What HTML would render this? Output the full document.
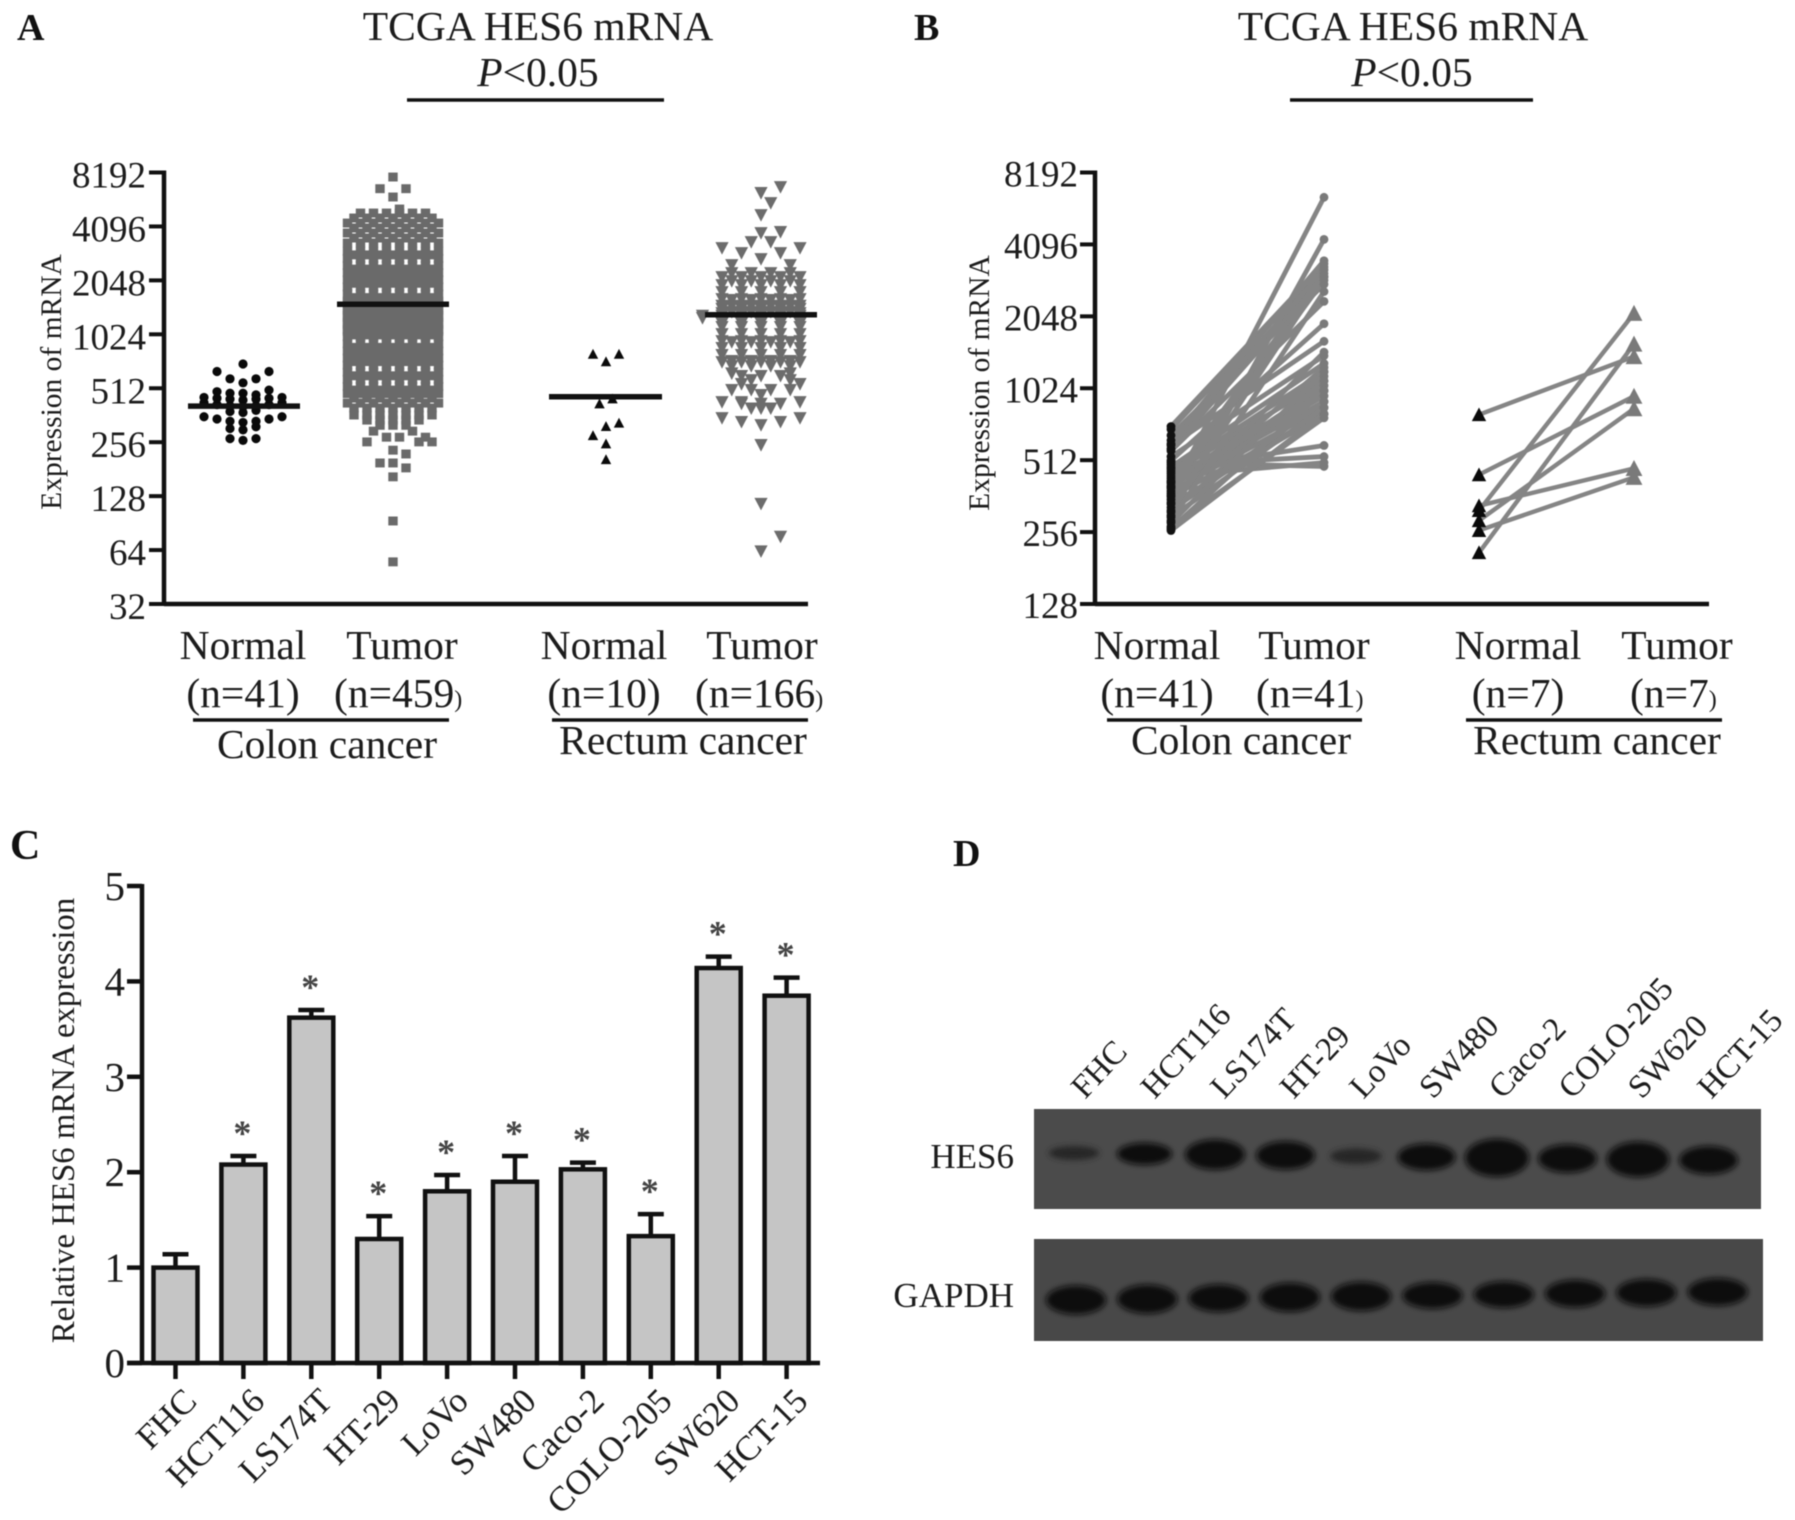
<!DOCTYPE html>
<html lang="en">
<head>
<meta charset="utf-8">
<title>HES6 mRNA figure</title>
<style>
html,body{margin:0;padding:0;background:#fff;width:1795px;height:1520px;overflow:hidden}
svg{display:block;filter:blur(.6px)}
text{font-family:"Liberation Serif",serif;fill:#1c1c1c}
.t40{font-size:41.5px}
.tick{font-size:37px;text-anchor:end}
.ctr{text-anchor:middle}
.panel{font-size:38px;font-weight:bold;fill:#111}
.ln{stroke:#111;fill:none}
.sm{font-size:24px}
</style>
</head>
<body>
<svg id="fig" xmlns="http://www.w3.org/2000/svg" width="1795" height="1520" viewBox="0 0 1795 1520">
  <rect width="1795" height="1520" fill="#fff"/>

  <!-- Panel A text -->
  <text x="17" y="40" class="panel">A</text>
  <text x="538" y="40" class="t40 ctr">TCGA HES6 mRNA</text>
  <text x="538" y="86" class="t40 ctr"><tspan font-style="italic">P</tspan>&lt;0.05</text>
  <line x1="407" y1="100" x2="664" y2="100" class="ln" stroke-width="3.5"/>
  <text x="52" y="382" class="ctr" font-size="29.5" transform="rotate(-90 52 382)" dy="9">Expression of mRNA</text>
  <text x="243" y="659" class="t40 ctr">Normal</text>
  <text x="402" y="659" class="t40 ctr">Tumor</text>
  <text x="243" y="707" class="t40 ctr">(n=41)</text>
  <text x="334" y="707" class="t40">(n=459<tspan class="sm">)</tspan></text>
  <line x1="193" y1="720" x2="449" y2="720" class="ln" stroke-width="3.5"/>
  <text x="327" y="758" class="t40 ctr">Colon cancer</text>
  <text x="604" y="659" class="t40 ctr">Normal</text>
  <text x="762" y="659" class="t40 ctr">Tumor</text>
  <text x="604" y="707" class="t40 ctr">(n=10)</text>
  <text x="695" y="707" class="t40">(n=166<tspan class="sm">)</tspan></text>
  <line x1="552" y1="720" x2="808" y2="720" class="ln" stroke-width="3.5"/>
  <text x="683" y="754" class="t40 ctr">Rectum cancer</text>

  <!-- Panel B text -->
  <text x="914" y="40" class="panel">B</text>
  <text x="1413" y="40" class="t40 ctr">TCGA HES6 mRNA</text>
  <text x="1412" y="86" class="t40 ctr"><tspan font-style="italic">P</tspan>&lt;0.05</text>
  <line x1="1290" y1="100" x2="1533" y2="100" class="ln" stroke-width="3.5"/>
  <text x="980" y="383" class="ctr" font-size="29.5" transform="rotate(-90 980 383)" dy="9">Expression of mRNA</text>
  <text x="1157" y="659" class="t40 ctr">Normal</text>
  <text x="1314" y="659" class="t40 ctr">Tumor</text>
  <text x="1157" y="707" class="t40 ctr">(n=41)</text>
  <text x="1256" y="707" class="t40">(n=41<tspan class="sm">)</tspan></text>
  <line x1="1107" y1="720" x2="1362" y2="720" class="ln" stroke-width="3.5"/>
  <text x="1241" y="754" class="t40 ctr">Colon cancer</text>
  <text x="1518" y="659" class="t40 ctr">Normal</text>
  <text x="1677" y="659" class="t40 ctr">Tumor</text>
  <text x="1518" y="707" class="t40 ctr">(n=7)</text>
  <text x="1630" y="707" class="t40">(n=7<tspan class="sm">)</tspan></text>
  <line x1="1466" y1="720" x2="1722" y2="720" class="ln" stroke-width="3.5"/>
  <text x="1597" y="754" class="t40 ctr">Rectum cancer</text>

  <!-- Panel C / D text -->
  <text x="10" y="859" class="panel" font-size="42" style="font-size:42px">C</text>
  <text x="64" y="1120.5" class="ctr" font-size="32.8" transform="rotate(-90 64 1120.5)" dy="10">Relative HES6 mRNA expression</text>
  <text x="953" y="866" class="panel">D</text>
  <text x="1014" y="1168" font-size="35" text-anchor="end">HES6</text>
  <text x="1014" y="1307" font-size="35" text-anchor="end">GAPDH</text>

  <g id="layer-a"></g>
  <g id="layer-b"></g>
  <g id="layer-c"></g>
  <g id="layer-d"></g>
  <defs>
    <filter id="bandBlur" x="-40%" y="-80%" width="180%" height="260%"><feGaussianBlur stdDeviation="3"/></filter>
  </defs>
</svg>
<script>
/* ---------- Panel A data ---------- */
const aTickLabels = [8192,4096,2048,1024,512,256,128,64,32];
/* Dense part of the colon tumour column: expression level and number of samples in that swarm row */
const aColonTumorLevels = [4866,4564,4279,4014,3764,3529,3311,
  2975,2842,2715,2478,2367,2261,2160,2064,1972,1884,
  1719,1642,1569,1499,1432,1368,1307,1248,1192,1139,1088,1040,993,
  906,866,827,790,755,721,689,629,601,574,524,500,478,
  451,423,397,363,340,
  1534,1465,1400,1337,1277,1220,1165,1113,1064,1016,970];
const aColonTumorCounts = [6,7,8,7,8,7,8,
  8,7,8,8,7,8,7,8,7,8,
  8,7,8,7,8,7,8,7,8,7,8,7,8,
  8,7,8,7,8,7,8,8,7,8,8,7,8,
  7,8,7,7,5,
  8,7,8,7,8,7,8,7,8,7,2];
/* Sparse rows: null marks an empty swarm slot */
const aColonTumorSparseRows = [[7729],[null,6654,6654],[5979],[null,5123],
  [318,318,318],[null,null,295,295],[273,273,null,null,null,273],[null,null,null,257,257,null,257],
  [231],[null,null,220],[196,196,null],[null,null,184],[164],[93],[55]];
const aColonNormalRows = [[699],[549,578,578,635,635],[480,480,470,490,500],
  [440,445,445,450,450,455,455],[405,408,408,415,415,425,425],[375,380,385],
  [330,335,335,345,345,355,355],[300,305,312],[262,268,268]];
const aRectumNormalRows = [[721,794,794],[420,448],[314,279,328],[251],[205]];
const aRectumTumorRows = [[null,null,6797],[6295],[null,5534],[4743],[3764,null,3814],[3353,3353],
  [null,null,null,3104,3104],[null,2910,2910],[2695],[null,null,2495,2495],
  [2250,2250,2250,2250],[2138,2138,2138,2138,2138],[2031,2031,2031,2031],[1929,1929,1929,1929,1929],
  [1763,1763,1763,1763,1763],[1612,1612,1612,1612,1612],[1592,1592,1592,1592],
  [1473,1473,1473,1473],[1480,1480,1480,1480,1480],[1420,1420,1420,1420,1420],[1364,1364,1364,1364],
  [1346,1346,1346,1346,1346],[1300,1300,1300,1300,1300,1300,null],[1263,1263,1263,1263,1263,1263,null],
  [1231,1231,1231,1231,1231],[1180,1180,1180,1180,1180],[1125,1125,1125,1125,1125],
  [1028,1028,1028,1028,1028],[939,939,939,939,939],[927,927,927,927],[859,859,859,859,859],
  [785,785,785,785,785],[727,727,727,727],[717,717,717,717,717],[681,681,681,681],
  [null,null,620,620],[600,600,600],[569,null,null,569],[null,541,null,null,541],[501,501,501,501],
  [470],[null,429,null,429,429],[420,420,420],[395],[395,395],[319,332,332,349,349],[247],[116],[63,null,76]];
const aMeans = [407,1506,459,1317];

/* ---------- Panel B data ---------- */
const bTickLabels = [8192,4096,2048,1024,512,256,128];
const bColonNormal = [708,690,650,620,600,590,570,560,530,510,500,490,480,470,460,450,440,430,420,415,410,400,395,390,380,372,365,360,350,340,335,325,315,310,300,295,285,280,270,265,260];
const bColonTumor  = [3400,3300,2790,3500,3200,1610,3000,2365,1400,1907,482,530,1300,590,1200,1100,500,1000,3100,950,1150,900,1050,2900,850,6450,1000,800,1250,1450,800,3000,900,1100,4300,850,2600,1200,770,1000,800];
const bRectumNormal = [794,445,330,315,286,260,210];
const bRectumTumor  = [1390,948,473,2108,841,434,1568];

/* ---------- Panel C data ---------- */
const cCategories = ['FHC','HCT116','LS174T','HT-29','LoVo','SW480','Caco-2','COLO-205','SW620','HCT-15'];
const cValues = [1.0,2.08,3.62,1.3,1.8,1.9,2.03,1.33,4.14,3.85];
const cErrorTops = [1.14,2.17,3.7,1.54,1.97,2.17,2.1,1.56,4.26,4.04];
const cTickLabels = [0,1,2,3,4,5];
const cStars = [false,true,true,true,true,true,true,true,true,true];

/* ---------- Panel D data ---------- */
const dLanes = ['FHC','HCT116','LS174T','HT-29','LoVo','SW480','Caco-2','COLO-205','SW620','HCT-15'];
const dHes6Band = [0.25,0.5,0.76,0.7,0.3,0.65,1.0,0.7,0.92,0.7];
const dGapdhBand = [0.75,0.75,0.7,0.75,0.75,0.66,0.66,0.7,0.7,0.7];

const NS = 'http://www.w3.org/2000/svg';
function add(parent, tag, attrs, name) {
  const el = document.createElementNS(NS, tag);
  for (const k in attrs) el.setAttribute(k, attrs[k]);
  
  
  parent.appendChild(el);
  return el;
}
function label(parent, x, y, str, cls, name) {
  const el = add(parent, 'text', {x: x, y: y, class: cls}, name);
  el.textContent = str;
  return el;
}
function line(parent, x1, y1, x2, y2, w, name, color) {
  return add(parent, 'line', {x1, y1, x2, y2, stroke: color || '#111', 'stroke-width': w}, name);
}
function marker(parent, kind, x, y, s, color, name) {
  if (kind === 'circle') return add(parent, 'circle', {cx: x, cy: y, r: s, fill: color}, name);
  if (kind === 'square') return add(parent, 'rect', {x: x - s, y: y - s * 0.95, width: 2 * s, height: 1.9 * s, fill: color}, name);
  const d = kind === 'up' ? 1 : -1;
  const pts = (x - s) + ',' + (y + d * s * 0.9) + ' ' + (x + s) + ',' + (y + d * s * 0.9) + ' ' + x + ',' + (y - d * s);
  return add(parent, 'polygon', {points: pts, fill: color}, name);
}
function slotOrder(n) {
  const out = [];
  if (n % 2) { out.push(0); for (let i = 1; out.length < n; i++) out.push(-i, i); }
  else { for (let i = 0.5; out.length < n; i++) out.push(-i, i); }
  return out.slice(0, n);
}

/* Panel A */
const layerA = document.getElementById('layer-a');
const aTop = 172.5, aBottom = 604, aX0 = 164, aXEnd = 808;
function yA(v) { return aBottom - (Math.log2(v) - 5) * (aBottom - aTop) / 8; }
function swarm(rows, cx, spacing, kind, size, color, name) {
  const g = add(layerA, 'g', {}, name + '-points');
  rows.forEach(function (row) {
    const slots = slotOrder(row.length);
    row.forEach(function (v, i) {
      if (v === null) return;
      marker(g, kind, cx + slots[i] * spacing, yA(v), size, color, name + '-point');
    });
  });
}
const aColonTumorRows = aColonTumorLevels.map(function (v, i) { return new Array(aColonTumorCounts[i]).fill(v); }).concat(aColonTumorSparseRows);
swarm(aColonNormalRows, 243, 13, 'circle', 4.6, '#0a0a0a', 'colon-normal');
swarm(aColonTumorRows, 393, 13, 'square', 4.7, '#6a6a6a', 'colon-tumor');
swarm(aRectumNormalRows, 606, 13, 'up', 5.2, '#0a0a0a', 'rectum-normal');
swarm(aRectumTumorRows, 761, 19.5, 'down', 6.6, '#6c6c6c', 'rectum-tumor');
[[188,300],[337,449],[549,662],[705,817]].forEach(function (span, i) {
  line(layerA, span[0], yA(aMeans[i]), span[1], yA(aMeans[i]), 5.5, 'mean-line');
});
line(layerA, aX0, aTop - 2, aX0, aBottom + 2, 4.5, 'a-y-axis');
line(layerA, aX0, aBottom, aXEnd, aBottom, 4.5, 'a-x-axis');
aTickLabels.forEach(function (t) {
  const y = yA(t);
  line(layerA, 149, y, aX0, y, 4, 'a-y-tick');
  label(layerA, 146, y + 15, String(t), 'tick', 'a-y-tick-label');
});

/* Panel B */
const layerB = document.getElementById('layer-b');
const bTop = 172.5, bBottom = 604, bX0 = 1095, bXEnd = 1709;
function yB(v) { return bBottom - (Math.log2(v) - 7) * (bBottom - bTop) / 6; }
function paired(normal, tumor, x1, x2, lineW, name) {
  normal.forEach(function (v, i) {
    line(layerB, x1, yB(v), x2, yB(tumor[i]), lineW, name + '-pair-line', '#858585');
  });
}
paired(bColonNormal, bColonTumor, 1171, 1324, 4.8, 'colon');
paired(bRectumNormal, bRectumTumor, 1479, 1634, 4.4, 'rectum');
bColonNormal.forEach(function (v) { marker(layerB, 'circle', 1171, yB(v), 4.4, '#111', 'colon-normal-point'); });
bColonTumor.forEach(function (v) { marker(layerB, 'circle', 1324, yB(v), 4.4, '#7a7a7a', 'colon-tumor-point'); });
bRectumNormal.forEach(function (v) { marker(layerB, 'up', 1479, yB(v), 7.2, '#0a0a0a', 'rectum-normal-point'); });
bRectumTumor.forEach(function (v) { marker(layerB, 'up', 1634, yB(v), 8.4, '#7a7a7a', 'rectum-tumor-point'); });
line(layerB, bX0, bTop - 2, bX0, bBottom + 2, 4.5, 'b-y-axis');
line(layerB, bX0, bBottom, bXEnd, bBottom, 4.5, 'b-x-axis');
bTickLabels.forEach(function (t) {
  const y = yB(t);
  line(layerB, 1080, y, bX0, y, 4, 'b-y-tick');
  label(layerB, 1078, y + 14, String(t), 'tick', 'b-y-tick-label');
});

/* Panel C */
const layerC = document.getElementById('layer-c');
const cBase = 1363, cTop = 886;
function yC(v) { return cBase - v * (cBase - cTop) / 5; }
function xC(i) { return 175.5 + i * 67.9; }
cCategories.forEach(function (c, i) {
  const x = xC(i), yv = yC(cValues[i]), ye = yC(cErrorTops[i]);
  line(layerC, x, yv, x, ye, 4.5, 'error-bar-' + c);
  line(layerC, x - 13, ye, x + 13, ye, 4.5, 'error-cap-' + c);
  add(layerC, 'rect', {x: x - 22, y: yv, width: 44, height: cBase - yv, fill: '#c5c5c5', stroke: '#111', 'stroke-width': 4.5}, 'bar-' + c);
  line(layerC, x, cBase, x, cBase + 16, 4.5, 'x-tick-' + c);
  const tx = x + 23, ty = cBase + 40;
  const t = label(layerC, tx, ty, c, '', 'x-tick-label-' + c);
  t.setAttribute('font-size', '35');
  t.setAttribute('text-anchor', 'end');
  t.setAttribute('transform', 'rotate(-45 ' + tx + ' ' + ty + ')');
  if (cStars[i]) {
    const s = label(layerC, x - 1, ye - 11, '*', 'ctr', 'significance-star-' + c);
    s.setAttribute('font-size', '36');
    s.setAttribute('font-weight', 'bold');
    s.setAttribute('style', 'fill:#444');
  }
});
line(layerC, 142, cTop - 2, 142, cBase + 2, 4.5, 'c-y-axis');
line(layerC, 127, cBase, 820, cBase, 4.5, 'c-x-axis');
cTickLabels.forEach(function (t) {
  const y = yC(t);
  line(layerC, 127, y, 142, y, 4.5, 'c-y-tick');
  const l = label(layerC, 125, y + 14, String(t), '', 'c-y-tick-label');
  l.setAttribute('font-size', '41');
  l.setAttribute('text-anchor', 'end');
});

/* Panel D */
const layerD = document.getElementById('layer-d');
add(layerD, 'rect', {x: 1034, y: 1109, width: 727, height: 100, fill: '#4b4b4b'}, 'hes6-blot');
add(layerD, 'rect', {x: 1034, y: 1239, width: 729, height: 102, fill: '#484848'}, 'gapdh-blot');
dLanes.forEach(function (c, i) {
  const s = dHes6Band[i];
  add(layerD, 'ellipse', {cx: 1074 + i * 70.5, cy: 1153 + i * 0.8, rx: 23 + 9 * s, ry: 3 + 16 * s,
    fill: s < 0.35 ? '#262626' : '#0f0f0f', filter: 'url(#bandBlur)'}, 'hes6-band-' + c);
  const g = dGapdhBand[i];
  add(layerD, 'ellipse', {cx: 1076 + i * 71.3, cy: 1300 - i * 0.9, rx: 30, ry: 14 * g + 4,
    fill: '#0f0f0f', filter: 'url(#bandBlur)'}, 'gapdh-band-' + c);
  const tx = 1085 + i * 69.6, ty = 1100;
  const t = label(layerD, tx, ty, c, '', 'blot-lane-label-' + c);
  t.setAttribute('font-size', '33');
  t.setAttribute('transform', 'rotate(-47 ' + tx + ' ' + ty + ')');
});
</script>
</body>
</html>
